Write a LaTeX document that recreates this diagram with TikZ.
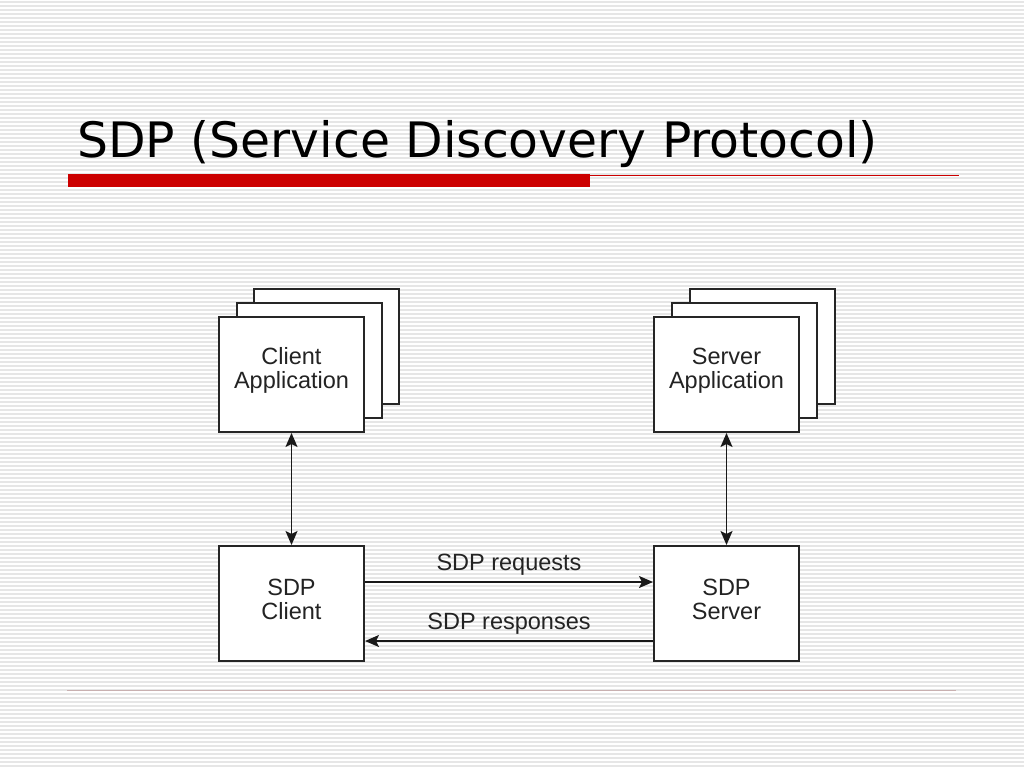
\documentclass[tikz,border=0pt]{standalone}
\usepackage{fontspec}
\setmainfont{Liberation Sans}
\newfontfamily\titlefont{DejaVu Sans}
\usetikzlibrary{arrows.meta}
\definecolor{stripe}{RGB}{230,230,230}
\definecolor{titlered}{RGB}{204,0,0}
\definecolor{boxtext}{RGB}{35,35,35}
\definecolor{footline}{RGB}{200,176,176}
\begin{document}
\begin{tikzpicture}[x=1pt,y=-1pt,
  box/.style={draw=black!85,line width=2pt,fill=white,minimum width=145pt,minimum height=115pt,inner sep=0pt,anchor=north west},
  boxlabel/.style={text=boxtext,font=\fontsize{23.5}{24}\selectfont,align=center},
  edgelabel/.style={text=boxtext,font=\fontsize{23.5}{24}\selectfont,inner sep=0pt},
  conn/.style={line width=1.8pt,draw=black!90},
  tip/.style={-{Stealth[length=14pt,width=12pt,inset=3pt]}},
  tips/.style={{Stealth[length=14pt,width=12pt,inset=3pt]}-{Stealth[length=14pt,width=12pt,inset=3pt]}}]
\useasboundingbox (0,0) rectangle (1024,768);
\fill[white] (0,0) rectangle (1024,768);
\foreach \k in {0,...,191}{
  \draw[stripe,line width=1.7pt] (0,{2+4*\k}) -- (1024,{2+4*\k});
}
% title
\node[anchor=base west,inner sep=0pt,font=\titlefont\fontsize{48.8}{58}\selectfont] (title) at (77,157) {SDP (Service Discovery Protocol)};
\fill[titlered] (68,174) rectangle (590,187);
\draw[titlered,line width=1pt] (590,175) -- (959,175);
\draw[footline,line width=1pt] (67,690) -- (956,690);
% client application stack
\node[box] (ca3) at (253,288) {};
\node[box] (ca2) at (236,302) {};
\node[box] (ca) at (218,316) {};
\node[boxlabel] at ([yshift=4pt]ca.center) {Client\\Application};
% server application stack
\node[box] (sa3) at (689,288) {};
\node[box] (sa2) at (671,302) {};
\node[box] (sa) at (653,316) {};
\node[boxlabel] at ([yshift=4pt]sa.center) {Server\\Application};
% sdp client / server
\node[box] (sc) at (218,545) {};
\node[boxlabel] at ([yshift=4pt]sc.center) {SDP\\Client};
\node[box] (ss) at (653,545) {};
\node[boxlabel] at ([yshift=4pt]ss.center) {SDP\\Server};
% connectors
\draw[conn,tips] (ca.south) -- (sc.north);
\draw[conn,tips] (sa.south) -- (ss.north);
\draw[conn,tip] ([yshift=-37pt]sc.north east) -- node[edgelabel,above=6pt] {SDP requests} ([yshift=-37pt]ss.north west);
\draw[conn,tip] ([yshift=21pt]ss.south west) -- node[edgelabel,above=6pt] {SDP responses} ([yshift=21pt]sc.south east);
\end{tikzpicture}
\end{document}
